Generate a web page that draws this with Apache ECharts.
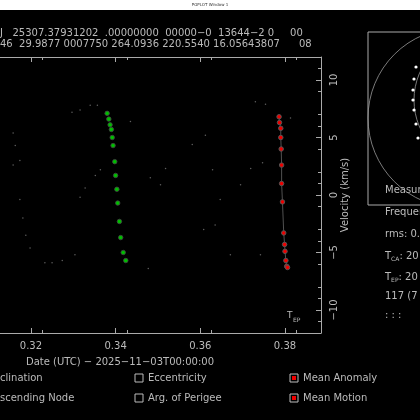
<!DOCTYPE html>
<html><head><meta charset="utf-8">
<script src="https://cdn.jsdelivr.net/npm/echarts@6/dist/echarts.min.js"></script>
<style>html,body{margin:0;padding:0;background:#000;}#c{width:420px;height:420px;}</style>
</head><body><div id="c"></div>
<script>
// Data (time fraction of day, velocity km/s)
const greenX=[0.3380,0.3384,0.3387,0.3390,0.3392,0.3394,0.3398,0.3400,0.3403,0.3405,0.3409,0.3412,0.3418,0.3424];
const greenY=[7.1,6.6,6.1,5.7,5.0,4.3,2.9,1.7,0.5,-0.7,-2.3,-3.7,-5.0,-5.7];
const redX=[0.3786,0.3787,0.3790,0.3790,0.3791,0.3792,0.3792,0.3794,0.3797,0.3799,0.3800,0.3802,0.3804,0.3806];
const redY=[6.8,6.3,5.8,5.0,4.0,2.6,1.0,-0.6,-3.3,-4.3,-4.9,-5.7,-6.2,-6.3];
const grayX=[0.3297,0.3316,0.3340,0.3357,0.3158,0.3163,0.3174,0.3158,0.3174,0.3181,0.3188,0.3198,0.3233,0.3250,0.3274,0.3304,0.3364,0.3352,0.3328,0.3316,0.3435,0.3482,0.3506,0.3518,0.3612,0.3581,0.3608,0.3477,0.3730,0.3754,0.3813,0.3747,0.3719,0.3695,0.3647,0.3635,0.3671,0.3742,0.3629];
const grayY=[7.2,7.4,7.8,7.8,5.4,4.3,3.0,2.6,-0.4,-2.0,-3.5,-4.6,-5.9,-5.9,-5.7,-5.2,2.2,1.7,0.6,-0.2,6.4,1.5,0.9,2.3,5.2,4.4,-3.0,-6.4,8.1,7.9,6.7,2.8,2.3,0.9,-0.4,-2.6,-5.2,-5.2,2.2];
const xTicks=[0.32,0.34,0.36,0.38];
const yTicks=[-10,-5,0,5,10];
const dateLabel='Date (UTC) \u2212 2025\u221211\u221203T00:00:00';
const header1='J   25307.37931202  .00000000  00000\u22120  13644\u22122 0     00';
const header2='46  29.9877 0007750 264.0936 220.5540 16.05643807      08';
const legendItems=[['clination',null,0,378],['scending Node',null,0,398],['Eccentricity',false,135,378],['Arg. of Perigee',false,135,398],['Mean Anomaly',true,290,378],['Mean Motion',true,290,398]];
const sideTexts=[['Measur',190],['Frequen',212],['rms: 0.',234],['{m|T}{s|CA}{m|: 20}',256],['{m|T}{s|EP}{m|: 20}',277],['117 (7',296],[': : :',315]];

const F='DejaVu Sans';
const TC='#bbb';
const ch=echarts.init(document.getElementById('c'));
const g=[
 {type:'rect',shape:{x:0,y:0,width:420,height:10},style:{fill:'#fff'}},
 {type:'text',x:210,y:5,style:{text:'PGPLOT Window 1',fill:'#333',font:'4px '+F,align:'center',verticalAlign:'middle'}},
 {type:'text',x:0,y:33,style:{text:header1,fill:TC,font:'10px '+F,verticalAlign:'middle'}},
 {type:'text',x:0,y:44,style:{text:header2,fill:TC,font:'10px '+F,verticalAlign:'middle'}},
 {type:'text',x:120,y:362,style:{text:dateLabel,fill:TC,font:'10px '+F,align:'center',verticalAlign:'middle'}},
 {type:'text',x:345,y:195,rotation:Math.PI/2,style:{text:'Velocity (km/s)',fill:TC,font:'10px '+F,align:'center',verticalAlign:'middle'}},
 {type:'text',x:287,y:316,style:{text:'T',fill:TC,font:'9px '+F,verticalAlign:'middle'}},
 {type:'text',x:293,y:320,style:{text:'EP',fill:TC,font:'6px '+F,verticalAlign:'middle'}},
 {type:'rect',shape:{x:368,y:32,width:60,height:173},style:{fill:null,stroke:'#aaa',lineWidth:1}},
 {type:'circle',shape:{cx:458,cy:118,r:90},style:{fill:null,stroke:'#999',lineWidth:0.8}},
 {type:'circle',shape:{cx:482,cy:100,r:68},style:{fill:null,stroke:'#999',lineWidth:0.8}}
];
[[416,67],[414,79],[413,90],[413,100],[414,110],[416,124],[418,138]].forEach(p=>g.push({type:'circle',shape:{cx:p[0],cy:p[1],r:1.6},style:{fill:'#fff'}}));
sideTexts.forEach(t=>g.push({type:'text',x:385,y:t[1],style:{text:t[0],fill:TC,font:'10px '+F,verticalAlign:'middle',rich:{m:{fill:TC,font:'10px '+F},s:{fill:TC,font:'6px '+F,padding:[6,0,0,0]}}}}));
legendItems.forEach(it=>{
 let tx=it[2];
 if(it[1]!==null){
  g.push({type:'rect',shape:{x:it[2],y:it[3]-4,width:8,height:8},style:{fill:null,stroke:'#bbb',lineWidth:1}});
  if(it[1]) g.push({type:'rect',shape:{x:it[2]+2,y:it[3]-2,width:4,height:4},style:{fill:'#e00'}});
  tx=it[2]+13;
 }
 g.push({type:'text',x:tx,y:it[3],style:{text:it[0],fill:TC,font:'10px '+F,verticalAlign:'middle'}});
});
const xa=(pos,lab)=>({type:'value',position:pos,min:0.3127,max:0.3885,interval:0.02,
  axisLine:{onZero:false,lineStyle:{color:'#aaa'}},
  axisTick:{inside:true,length:5,lineStyle:{color:'#aaa'},customValues:xTicks},
  minorTick:{show:true,splitNumber:2,length:3,lineStyle:{color:'#aaa'}},
  axisLabel:{show:lab,customValues:xTicks,color:TC,fontFamily:F,fontSize:10,formatter:v=>v.toFixed(2)},
  splitLine:{show:false}});
ch.setOption({
 backgroundColor:'#000',animation:false,
 grid:{left:0,right:99,top:57,bottom:87},
 xAxis:[xa('bottom',true),xa('top',false)],
 yAxis:{type:'value',position:'right',min:-12,max:12,interval:5,
  axisLine:{show:true,onZero:false,lineStyle:{color:'#aaa'}},
  axisTick:{inside:true,length:5,lineStyle:{color:'#aaa'},customValues:yTicks},
  minorTick:{show:true,splitNumber:5,length:3,lineStyle:{color:'#aaa'}},
  axisLabel:{customValues:yTicks,rotate:90,color:TC,fontFamily:F,fontSize:10,formatter:v=>v<0?'\u2212'+(-v):''+v},
  splitLine:{show:false}},
 graphic:g,
 series:[
  {type:'scatter',data:grayX.map((x,i)=>[x,grayY[i]]),symbolSize:1.5,itemStyle:{color:'#777'},silent:true},
  {type:'line',data:redX.map((x,i)=>[x,redY[i]]),symbol:'circle',symbolSize:4.5,lineStyle:{color:'#888',width:0.6},itemStyle:{color:'#e00',borderColor:'#555',borderWidth:1}},
  {type:'scatter',data:greenX.map((x,i)=>[x,greenY[i]]),symbolSize:4.5,itemStyle:{color:'#0e0',borderColor:'#444',borderWidth:1}}
 ]
});
</script></body></html>
